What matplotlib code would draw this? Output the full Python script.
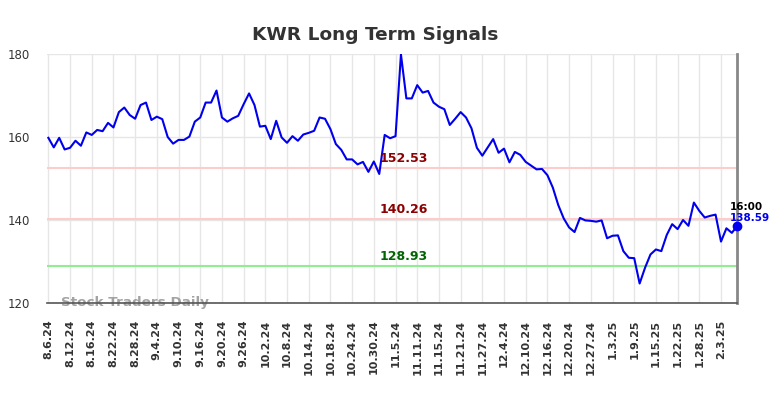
import matplotlib
matplotlib.use("Agg")
import matplotlib.pyplot as plt

title = "KWR Long Term Signals"
tick_labels = ["8.6.24", "8.12.24", "8.16.24", "8.22.24", "8.28.24", "9.4.24", "9.10.24",
               "9.16.24", "9.20.24", "9.26.24", "10.2.24", "10.8.24", "10.14.24", "10.18.24",
               "10.24.24", "10.30.24", "11.5.24", "11.11.24", "11.15.24", "11.21.24",
               "11.27.24", "12.4.24", "12.10.24", "12.16.24", "12.20.24", "12.27.24",
               "1.3.25", "1.9.25", "1.15.25", "1.22.25", "1.28.25", "2.3.25"]
prices = [159.8, 157.5, 159.8, 157.0, 157.4, 159.1, 157.9, 161.1, 160.5, 161.7,
          161.4, 163.4, 162.3, 166.0, 167.1, 165.3, 164.4, 167.7, 168.3, 164.1,
          164.9, 164.3, 160.0, 158.4, 159.3, 159.3, 160.1, 163.7, 164.7, 168.3,
          168.3, 171.2, 164.7, 163.7, 164.5, 165.1, 167.9, 170.5, 167.7, 162.5,
          162.7, 159.5, 163.9, 159.9, 158.6, 160.2, 159.1, 160.6, 161.0, 161.5,
          164.7, 164.4, 161.9, 158.3, 156.9, 154.6, 154.6, 153.4, 154.0, 151.6,
          154.1, 151.1, 160.5, 159.7, 160.2, 179.9, 169.3, 169.3, 172.5, 170.7,
          171.1, 168.3, 167.3, 166.7, 162.9, 164.4, 166.0, 164.7, 162.1, 157.4,
          155.5, 157.5, 159.5, 156.2, 157.2, 153.9, 156.4, 155.7, 154.0, 153.1,
          152.2, 152.3, 150.8, 147.8, 143.6, 140.4, 138.2, 137.1, 140.5, 139.9,
          139.8, 139.6, 139.9, 135.6, 136.2, 136.3, 132.5, 130.9, 130.8, 124.7,
          128.5, 131.7, 132.9, 132.5, 136.4, 139.0, 137.8, 140.0, 138.6, 144.2,
          142.2, 140.6, 141.0, 141.3, 134.8, 138.0, 136.9, 138.59]
levels = [152.53, 140.26, 128.93]
level_line_colors = ["#ffcccc", "#ffcccc", "#90ee90"]
level_text_colors = ["#8b0000", "#8b0000", "#006400"]
last_time = "16:00"
yticks = [120, 140, 160, 180]

fig = plt.figure(figsize=(7.84, 3.98), dpi=100)
ax = fig.add_axes([0.0596, 0.2387, 0.9404 - 0.0596, 0.8643 - 0.2387])

x = list(range(len(prices)))
ax.plot(x, prices, color="#0000ee", lw=1.5, zorder=3)
ax.plot([x[-1]], [prices[-1]], "o", color="#0000ee", ms=6, zorder=4, clip_on=False)

for lv, lc, tc in zip(levels, level_line_colors, level_text_colors):
    ax.axhline(lv, color=lc, lw=1.5, zorder=2)
    ax.text(65.5, lv + 0.8, f"{lv:.2f}", color=tc, fontsize=9, fontweight="bold",
            ha="center", va="bottom", zorder=5)

ax.text(x[-1] - 1.3, prices[-1] + 3.4, last_time, color="black", fontsize=7.5,
        fontweight="bold", ha="left", va="bottom")
ax.text(x[-1] - 1.3, prices[-1] + 0.8, f"{prices[-1]:.2f}", color="#0000ee", fontsize=7.5,
        fontweight="bold", ha="left", va="bottom")

ax.set_xlim(-0.3, len(prices) - 1)
ax.set_ylim(120, 180)
ax.set_yticks(yticks)
ax.set_xticks(range(0, 4 * len(tick_labels), 4))
ax.set_xticklabels(tick_labels, rotation=90, fontsize=8, fontweight="bold", color="#333333")
ax.tick_params(axis="y", labelsize=8.5, colors="#333333", length=0, pad=12)
ax.tick_params(axis="x", length=0, pad=12)
ax.grid(True, color="#e6e6e6", lw=1, zorder=0)
ax.set_axisbelow(True)
for s in ["top", "left"]:
    ax.spines[s].set_visible(False)
ax.spines["bottom"].set_color("#555555")
ax.spines["bottom"].set_linewidth(1.2)
ax.spines["right"].set_color("#888888")
ax.spines["right"].set_linewidth(2)

ax.text(0.02, 0.0, "Stock Traders Daily", transform=ax.transAxes, fontsize=9.7,
        fontweight="bold", color="#999999", alpha=0.9, ha="left", va="center", zorder=1)

fig.suptitle(title, x=0.478, y=0.935, fontsize=13.3, fontweight="bold", color="#333333")

fig.savefig("out.png", dpi=100)
